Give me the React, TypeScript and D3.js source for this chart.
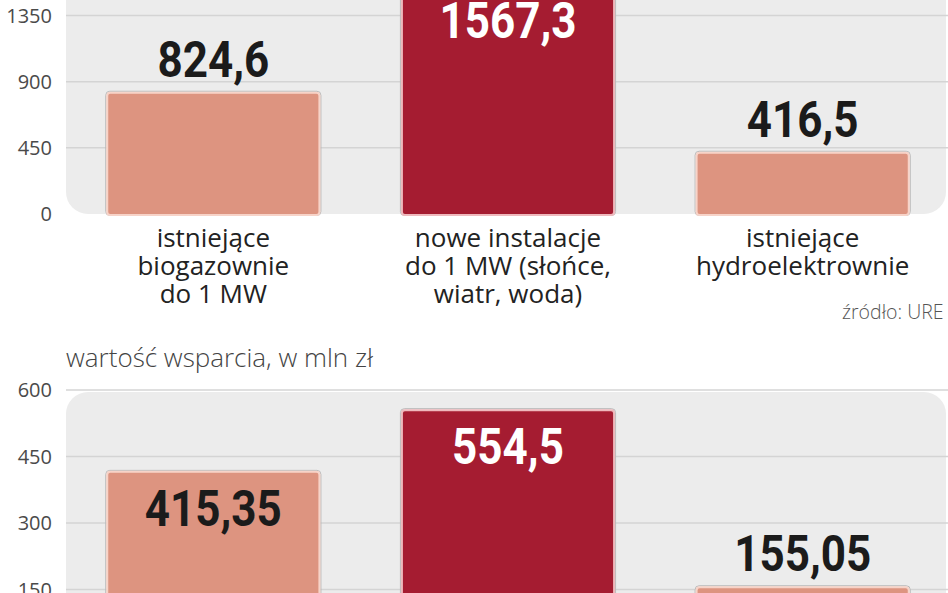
import React, { useEffect, useRef } from "react";
import * as d3 from "d3";

// chart data
const categoryLines = [
  ["istniejące", "biogazownie", "do 1 MW"],
  ["nowe instalacje", "do 1 MW (słońce,", "wiatr, woda)"],
  ["istniejące", "hydroelektrownie"],
];
const categoryKeys = ["biogaz", "nowe", "hydro"];
const highlighted = ["nowe"];

const capacityValues = [824.6, 1567.3, 416.5];
const capacityLabels = ["824,6", "1567,3", "416,5"];
const capacityTicks = [450, 900, 1350];

const supportValues = [415.35, 554.5, 155.05];
const supportLabels = ["415,35", "554,5", "155,05"];
const supportTicks = [150, 300, 450, 600];

const supportTitle = "wartość wsparcia, w mln zł";
const sourceText = "źródło: URE";

const W = 948;
const H = 593;

const SALMON = "#dd9480";
const RED = "#a51c31";
const PANEL = "#ececec";
const GRID = "#d4d4d4";
const SANS = "'Open Sans', 'DejaVu Sans', sans-serif";
const NUM = "Roboto, 'DejaVu Sans', sans-serif";

const App: React.FC = () => {
  const svgRef = useRef<SVGSVGElement>(null);

  useEffect(() => {
    if (!svgRef.current) return;
    const svg = d3.select(svgRef.current);
    svg.selectAll("*").remove();

    svg.append("rect").attr("width", W).attr("height", H).attr("fill", "#fff");

    const x = d3.scaleBand<string>()
      .domain(categoryKeys)
      .range([66, 950])
      .paddingInner(0.28)
      .paddingOuter(0.14);

    const drawPanel = (
      values: number[],
      labels: string[],
      ticks: number[],
      y: d3.ScaleLinear<number, number>,
      panelTop: number,
      panelBottom: number
    ) => {
      const g = svg.append("g");

      // panel background
      g.append("rect")
        .attr("x", 66)
        .attr("y", panelTop)
        .attr("width", 880)
        .attr("height", panelBottom - panelTop)
        .attr("rx", 22)
        .attr("fill", PANEL);

      // gridlines
      g.selectAll(".grid")
        .data(ticks)
        .join("line")
        .attr("x1", 66)
        .attr("x2", W)
        .attr("y1", d => y(d))
        .attr("y2", d => y(d))
        .attr("stroke", GRID)
        .attr("stroke-width", 1.5);

      // y-axis labels
      g.selectAll(".tick")
        .data([0, ...ticks].filter(d => y(d) < H + 10))
        .join("text")
        .attr("x", 52)
        .attr("y", d => y(d))
        .attr("dy", "0.36em")
        .attr("text-anchor", "end")
        .attr("font-family", SANS)
        .attr("font-size", 20)
        .attr("fill", "#4a4a4a")
        .text(d => d);

      const bars = values.map((v, i) => ({
        key: categoryKeys[i],
        value: v,
        label: labels[i],
      }));

      const base = y(0);

      // thin outer outline
      g.selectAll(".bar-outline")
        .data(bars)
        .join("rect")
        .attr("x", d => (x(d.key) || 0) - 1.5)
        .attr("y", d => y(d.value) - 1.5)
        .attr("width", x.bandwidth() + 3)
        .attr("height", d => base - y(d.value) + 3)
        .attr("rx", 4)
        .attr("fill", "none")
        .attr("stroke", "#b9b9b9")
        .attr("stroke-width", 1);

      g.selectAll(".bar")
        .data(bars)
        .join("rect")
        .attr("x", d => x(d.key) || 0)
        .attr("y", d => y(d.value))
        .attr("width", x.bandwidth())
        .attr("height", d => base - y(d.value) + 1)
        .attr("rx", 3)
        .attr("fill", d => (highlighted.includes(d.key) ? RED : SALMON))
        .attr("stroke", d => (highlighted.includes(d.key) ? "#efb9bd" : "#f7d3c8"))
        .attr("stroke-width", 2);

      // value labels
      g.selectAll(".value")
        .data(bars)
        .join("text")
        .attr("transform", d => {
          const inside = base - y(d.value) > 150;
          const ty = inside ? y(d.value) + 54 : y(d.value) - 16;
          const tx = (x(d.key) || 0) + x.bandwidth() / 2;
          return `translate(${tx},${ty}) scale(0.88,1)`;
        })
        .attr("text-anchor", "middle")
        .attr("font-family", NUM)
        .attr("font-weight", 700)
        .attr("font-size", 50)
        .attr("fill", d => (highlighted.includes(d.key) ? "#fff" : "#1b1b1b"))
        .text(d => d.label);
    };

    // top panel: capacity
    const yTop = d3.scaleLinear().domain([0, 1350]).range([214, 15.5]);
    drawPanel(capacityValues, capacityLabels, capacityTicks, yTop, -40, 214);

    // category labels under the top panel
    const cats = svg.append("g");
    categoryKeys.forEach((key, i) => {
      const cx = (x(key) || 0) + x.bandwidth() / 2;
      categoryLines[i].forEach((line, j) => {
        cats.append("text")
          .attr("x", cx)
          .attr("y", yTop(0) + 33 + j * 28)
          .attr("text-anchor", "middle")
          .attr("font-family", SANS)
          .attr("font-size", 26)
          .attr("fill", "#222")
          .text(line);
      });
    });

    svg.append("text")
      .attr("x", 842)
      .attr("y", 319)
      .attr("font-family", SANS)
      .attr("font-size", 19.5)
      .attr("font-weight", 300)
      .attr("fill", "#555")
      .text(sourceText);

    // bottom panel: support value
    svg.append("text")
      .attr("x", 66)
      .attr("y", 367)
      .attr("font-family", SANS)
      .attr("font-size", 26)
      .attr("font-weight", 300)
      .attr("fill", "#444")
      .text(supportTitle);

    const yBottom = d3.scaleLinear().domain([0, 600]).range([656, 390]);
    drawPanel(supportValues, supportLabels, supportTicks, yBottom, 392, 720);
  }, []);

  return (
    <svg
      ref={svgRef}
      width={W}
      height={H}
      style={{ position: "absolute", left: 0, top: 0, display: "block" }}
    />
  );
};

export default App;
